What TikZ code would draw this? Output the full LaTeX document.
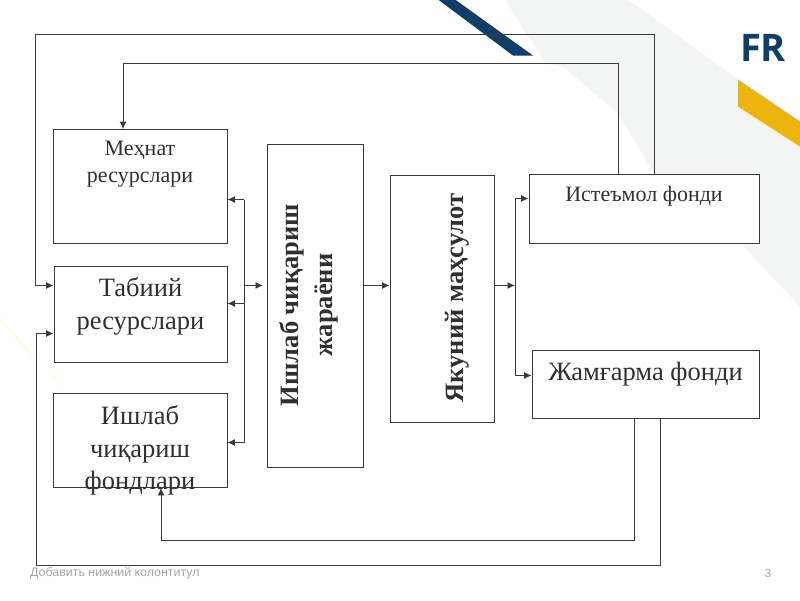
\documentclass[tikz,border=0pt]{standalone}
\usepackage{fontspec}
\setmainfont{Liberation Serif}
\newfontfamily\logofont{Open Sans}
\newfontfamily\footfont{Liberation Sans}
\usetikzlibrary{arrows.meta}
\definecolor{navyfr}{HTML}{0F3F66}
\definecolor{goldfr}{HTML}{EDB40E}
\definecolor{bandgray}{HTML}{F3F4F4}
\definecolor{inkline}{HTML}{3A3A3A}
\definecolor{inktext}{HTML}{303030}

\begin{document}
\begin{tikzpicture}[x=1pt,y=-1pt,
  box/.style={draw=inkline,line width=0.9pt,minimum width=#1,inner sep=0pt},
  boxtext/.style={font=\fontsize{26.5}{32.5}\selectfont,text=inktext,align=center,inner sep=0pt},
  smalltext/.style={font=\fontsize{22}{27}\selectfont,text=inktext,align=center,inner sep=0pt},
  sidetext/.style={font=\fontsize{26.5}{34}\selectfont\bfseries,text=inktext,align=center,inner sep=0pt,rotate=90},
  link/.style={draw=inkline,line width=0.9pt},
  arrow/.style={link,-{Latex[length=7.5pt,width=7pt]}}
]
\useasboundingbox (0,0.5) rectangle (800,600.5);

% slide background
\fill[bandgray] (505,0) -- (628,0) -- (800,125) -- (800,307) -- (742,245) -- (759,245) -- (759,175) -- (655,175) -- (617,113) -- (563,67) -- (545,64) -- cycle;
\fill[navyfr] (438,0) -- (455,0) -- (533,56) -- (513,56) -- cycle;
\fill[goldfr] (738,80) -- (800,122) -- (800,147) -- (738,107) -- cycle;
\draw[yellow!25,line width=0.8pt] (0,320) -- (38,362);
\draw[yellow!25,line width=0.8pt] (48,372) -- (60,385);
\node[font=\logofont\bfseries\fontsize{38}{38}\selectfont,text=navyfr,inner sep=0pt] (logo) at (763,48) {FR};
\node[font=\footfont\fontsize{12.4}{12.4}\selectfont,text=black!35,anchor=west,inner sep=0pt] (footer) at (30,574) {Добавить нижний колонтитул};
\node[font=\footfont\fontsize{12}{12}\selectfont,text=black!35,inner sep=0pt] (pagenum) at (768,573.5) {3};

% boxes
\node[box=174pt,minimum height=114pt] (mehnat) at (140,187) {};
\node[box=173pt,minimum height=96pt] (tabiiy) at (140.5,315) {};
\node[box=174pt,minimum height=94pt] (fond) at (140,441) {};
\node[box=96pt,minimum height=323pt] (jarayon) at (315,306.5) {};
\node[box=104pt,minimum height=247pt] (yakuniy) at (442,299.5) {};
\node[box=230pt,minimum height=69pt] (istemol) at (644,209.5) {};
\node[box=227pt,minimum height=68pt] (jamgarma) at (645.5,385) {};

% texts
\node[smalltext] (mehnat_txt) at ([yshift=22pt]mehnat.center) {Меҳнат\\ресурслари};
\node[boxtext] (tabiiy_txt) at ([yshift=8pt]tabiiy.center) {Табиий\\ресурслари};
\node[boxtext] (fond_txt) at ([yshift=-10pt]fond.center) {Ишлаб\\чиқариш\\фондлари};
\node[sidetext] (jarayon_txt) at (309,305.5) {Ишлаб чиқариш\\жараёни};
\node[sidetext] (yakuniy_txt) at (457,298.5) {Якуний маҳсулот};
\node[smalltext] (istemol_txt) at ([yshift=13pt]istemol.center) {Истеъмол фонди};
\node[boxtext] (jamgarma_txt) at ([yshift=10pt]jamgarma.center) {Жамғарма фонди};

% left bus
\coordinate (busleft) at (244,286);
\draw[link] (busleft |- 0,200) -- (busleft |- 0,443);
\draw[arrow] (busleft |- 0,200) -- (mehnat.east |- 0,200);
\draw[arrow] (busleft |- 0,304) -- (tabiiy.east |- 0,304);
\draw[arrow] (busleft |- 0,443) -- (fond.east |- 0,443);
\draw[arrow] (busleft) -- (263,286);

% middle flow
\draw[arrow] (jarayon.east |- busleft) -- (yakuniy.west |- busleft);
\coordinate (busright) at (515,286);
\draw[arrow] (yakuniy.east |- busright) -- (busright);
\draw[link] (busright |- 0,199) -- (busright |- 0,376);
\draw[arrow] (busright |- 0,199) -- (istemol.west |- 0,199);
\draw[arrow] (busright |- 0,376) -- (jamgarma.west |- 0,376);

% feedback lines
\draw[arrow] ([xshift=-26pt]istemol.north) |- (123,64) -- (mehnat.north -| 123,0);
\draw[arrow] ([xshift=10pt]istemol.north) |- (35,35) |- (tabiiy.west |- 0,286);
\draw[arrow] ([xshift=-11.5pt]jamgarma.south) |- (161,541) -- (fond.south -| 161,0);
\draw[arrow] ([xshift=14.5pt]jamgarma.south) |- (36,566) |- (tabiiy.west |- 0,334);
\end{tikzpicture}
\end{document}
